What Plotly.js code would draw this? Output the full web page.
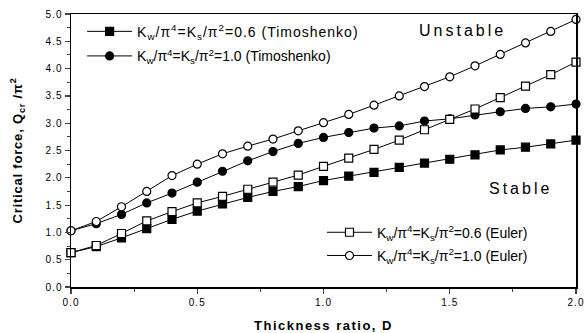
<!DOCTYPE html>
<html>
<head>
<meta charset="utf-8">
<script src="https://cdn.plot.ly/plotly-3.0.1.min.js"></script>
<style>
html,body{margin:0;padding:0;background:#fff;}
#chart{width:586px;height:333px;}
.legendtext{letter-spacing:1px;}
.annotation-text{letter-spacing:3px;}
.xtick text, .ytick text{letter-spacing:1px;}
.xtitle{letter-spacing:1.5px;}
.ytitle{letter-spacing:0.8px;}
</style>
</head>
<body>
<div id="chart"></div>
<script>
const thickness = [0.0,0.1,0.2,0.3,0.4,0.5,0.6,0.7,0.8,0.9,1.0,1.1,1.2,1.3,1.4,1.5,1.6,1.7,1.8,1.9,2.0];
const timoshenko06 = [0.63,0.74,0.90,1.07,1.24,1.39,1.52,1.64,1.75,1.84,1.95,2.03,2.10,2.19,2.27,2.34,2.42,2.51,2.56,2.62,2.69];
const timoshenko10 = [1.03,1.16,1.33,1.54,1.72,1.92,2.12,2.31,2.48,2.63,2.74,2.83,2.91,2.95,3.04,3.08,3.15,3.21,3.27,3.30,3.35];
const euler06 = [0.63,0.76,0.98,1.21,1.38,1.54,1.66,1.79,1.92,2.05,2.21,2.36,2.52,2.69,2.88,3.07,3.26,3.47,3.68,3.89,4.12];
const euler10 = [1.03,1.20,1.47,1.75,2.04,2.25,2.44,2.58,2.71,2.86,3.01,3.16,3.33,3.50,3.67,3.85,4.05,4.26,4.47,4.68,4.90];
const seriesNames = [
  "K<sub>w</sub>/π<sup>4</sup>=K<sub>s</sub>/π<sup>2</sup>=0.6 (Timoshenko)",
  "K<sub>w</sub>/π<sup>4</sup>=K<sub>s</sub>/π<sup>2</sup>=1.0 (Timoshenko)",
  "K<sub>w</sub>/π<sup>4</sup>=K<sub>s</sub>/π<sup>2</sup>=0.6 (Euler)",
  "K<sub>w</sub>/π<sup>4</sup>=K<sub>s</sub>/π<sup>2</sup>=1.0 (Euler)"
];
const regionLabels = ["Unstable", "Stable"];

function tr(y, name, symbol, filled, legend) {
  return {
    x: thickness, y: y, name: name, type: 'scatter', mode: 'lines+markers',
    line: {color: '#000', width: 1},
    marker: {symbol: symbol, size: 8, color: filled ? '#000' : '#fff',
             line: {color: '#000', width: 1.2}},
    legend: legend, cliponaxis: false
  };
}
const data = [
  tr(timoshenko06, seriesNames[0], 'square', true, 'legend'),
  tr(timoshenko10, seriesNames[1], 'circle', true, 'legend2'),
  tr(euler06, seriesNames[2], 'square', false, 'legend3'),
  tr(euler10, seriesNames[3], 'circle', false, 'legend4')
];
const fontFam = 'Liberation Sans, Arial, sans-serif';
function leg(x, y) {
  return {x: x, y: y, xanchor: 'left', yanchor: 'middle', bgcolor: 'rgba(0,0,0,0)',
          font: {size: 14, family: fontFam}, itemwidth: 45};
}
const layout = {
  width: 586, height: 333,
  margin: {l: 71, r: 10, t: 14, b: 46},
  paper_bgcolor: '#fff', plot_bgcolor: '#fff',
  font: {family: fontFam, color: '#000', size: 10},
  showlegend: true,
  xaxis: {
    range: [0, 2], tickvals: [0, 0.5, 1.0, 1.5, 2.0], tickformat: '.1f',
    ticks: 'outside', ticklen: 5, tickwidth: 1.2, showgrid: false, zeroline: false,
    showline: true, linecolor: '#000', linewidth: 1.5, mirror: true,
    minor: {dtick: 0.25, ticks: 'outside', ticklen: 3, tickwidth: 1, showgrid: false},
    tickfont: {size: 10},
    title: {text: '<b>Thickness ratio, D</b>', font: {size: 13}, standoff: 14}
  },
  yaxis: {
    range: [0, 5], dtick: 0.5, tickformat: '.1f',
    ticks: 'outside', ticklen: 5, tickwidth: 1.2, showgrid: false, zeroline: false,
    showline: true, linecolor: '#000', linewidth: 1.5, mirror: true,
    minor: {dtick: 0.25, ticks: 'outside', ticklen: 3, tickwidth: 1, showgrid: false},
    tickfont: {size: 10},
    title: {text: '<b>Critical force, Q<sub>cr</sub> /π<sup>2</sup></b>', font: {size: 13}, standoff: 20}
  },
  legend: leg(0.022, 0.935),
  legend2: leg(0.022, 0.845),
  legend3: leg(0.497, 0.199),
  legend4: leg(0.497, 0.114),
  annotations: [
    {x: 1.55, y: 4.7, xref: 'x', yref: 'y', text: regionLabels[0], showarrow: false,
     font: {size: 16, family: fontFam}},
    {x: 1.78, y: 1.8, xref: 'x', yref: 'y', text: regionLabels[1], showarrow: false,
     font: {size: 16, family: fontFam}}
  ]
};
Plotly.newPlot('chart', data, layout, {displayModeBar: false, staticPlot: true});
</script>
</body>
</html>
